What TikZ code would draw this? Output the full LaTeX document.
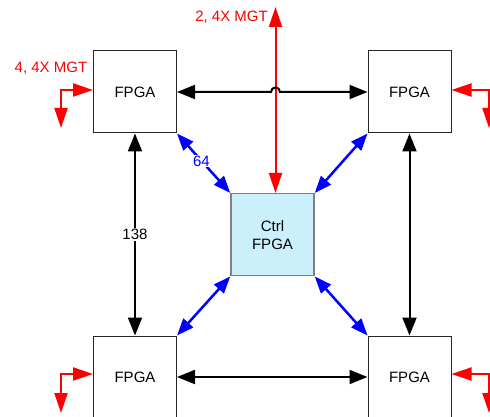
\documentclass[tikz,border=0pt]{standalone}
\usepackage{fontspec}
\setmainfont{Liberation Sans}
\usetikzlibrary{arrows.meta,calc}
\begin{document}
\begin{tikzpicture}[x=1pt,y=-1pt,
 txt/.style={font=\fontsize{15}{18}\selectfont},
 box/.style={txt,draw=black!85,line width=1pt,minimum width=83pt,minimum height=82pt,inner sep=0pt,align=center,fill=white},
 ctrlbox/.style={box,draw=black!50,fill=cyan!20,line width=1.5pt},
 lbl/.style={txt,inner sep=1pt},
 blk/.style={line width=2pt,black,{Triangle[length=18pt,width=14pt]}-{Triangle[length=18pt,width=14pt]}},
 rd/.style={line width=2pt,red,{Triangle[length=20pt,width=13pt]}-{Triangle[length=20pt,width=13pt]}},
 bl/.style={line width=2.5pt,blue,{Triangle[length=17pt,width=13pt]}-{Triangle[length=17pt,width=13pt]}},
]
\useasboundingbox (0,0) rectangle (490,417);
\clip (0,0) rectangle (490,417);

% nodes
\node[box] (tl) at (135,92) {FPGA};
\node[box] (tr) at (409.5,92) {FPGA};
\node[box] (bll) at (135,377) {FPGA};
\node[box] (br) at (409.5,377) {FPGA};
\node[ctrlbox] (ctrl) at (272.5,234.7) {Ctrl\\FPGA};

% coordinates
\coordinate (redtop) at (275.5,7);
\coordinate (hop) at (redtop |- tl.east);
\coordinate (tlm) at (61,128);
\coordinate (trm) at (489,128);
\coordinate (blm) at (61,413);
\coordinate (brm) at (489,413);

% red vertical
\draw[rd] (ctrl.north -| redtop) -- (redtop);
\node[lbl,text=red,anchor=east] (l2) at (269,17.5) {2, 4X MGT};

% black horizontals
\draw[blk] (tl.east) -- ($(hop)+(-4.5,0)$) .. controls +(0,-6) and +(0,-6) .. ($(hop)+(4.5,0)$) -- (tr.west);
\draw[blk] (bll.east) -- (br.west);

% black verticals
\draw[blk] (tl.south) -- (bll.north) node[midway,lbl,fill=white,yshift=0pt] (l138) {138};
\draw[blk] (tr.south) -- (br.north);

% blue diagonals
\draw[bl] (tl.south east) -- (ctrl.north west) node[pos=0.46,lbl,fill=white,text=blue] (l64) {64};
\draw[bl] (tr.south west) -- (ctrl.north east);
\draw[bl] (bll.north east) -- (ctrl.south west);
\draw[bl] (br.north west) -- (ctrl.south east);

% red bent arrows
\draw[rd] (tlm) |- ([yshift=2pt]tl.west);
\draw[rd] (trm) |- ([yshift=2pt]tr.east);
\draw[rd] (blm) |- ([yshift=3pt]bll.west);
\draw[rd] (brm) |- ([yshift=3pt]br.east);
\node[lbl,text=red] (l4) at (51,68) {4, 4X MGT};
\end{tikzpicture}
\end{document}
